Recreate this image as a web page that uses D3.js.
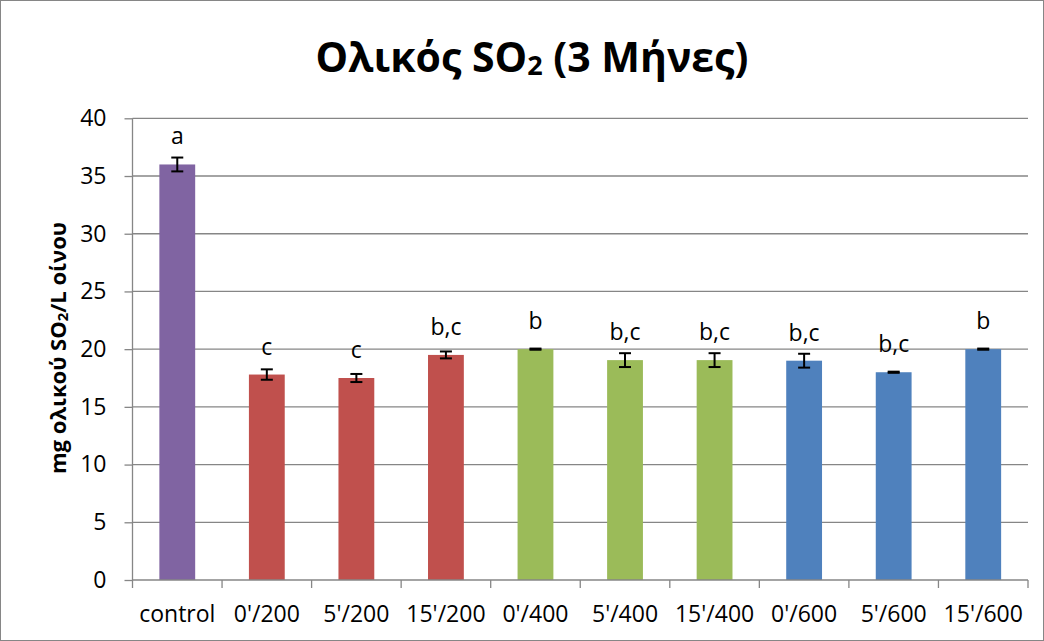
<!DOCTYPE html>
<html>
<head>
<meta charset="utf-8">
<script src="https://cdn.jsdelivr.net/npm/d3@7"></script>
<style>
  body { margin: 0; background: #fff; }
  svg { display: block; font-family: "Open Sans", sans-serif; }
</style>
</head>
<body>
<div id="chart"></div>
<script>
// data
const categories = ["control", "0'/200", "5'/200", "15'/200", "0'/400", "5'/400", "15'/400", "0'/600", "5'/600", "15'/600"];
const values = [36.0, 17.8, 17.5, 19.5, 20.0, 19.05, 19.05, 19.0, 18.0, 20.0];
const errors = [0.6, 0.45, 0.35, 0.3, 0.05, 0.6, 0.6, 0.6, 0.05, 0.05];
const letters = ["a", "c", "c", "b,c", "b", "b,c", "b,c", "b,c", "b,c", "b"];
const colors = ["#8064A2", "#C0504D", "#C0504D", "#C0504D", "#9BBB59", "#9BBB59", "#9BBB59", "#4F81BD", "#4F81BD", "#4F81BD"];
const yTicks = [0, 5, 10, 15, 20, 25, 30, 35, 40];

const svgWidth = 1044;
const svgHeight = 641;

const plot = { left: 132.5, right: 1028, top: 118.3, bottom: 580 };
const axisColor = "#868686";

const svg = d3.select("#chart")
  .append("svg")
  .attr("width", svgWidth)
  .attr("height", svgHeight);

// outer chart border
svg.append("rect")
  .attr("x", 0.5).attr("y", 0.5)
  .attr("width", svgWidth - 1).attr("height", svgHeight - 1)
  .attr("fill", "#fff")
  .attr("stroke", axisColor);

const x = d3.scaleBand()
  .domain(categories)
  .range([plot.left, plot.right])
  .paddingInner(0.6)
  .paddingOuter(0.3);

const y = d3.scaleLinear()
  .domain([0, 40])
  .range([plot.bottom, plot.top]);

// gridlines
svg.append("g")
  .selectAll("line")
  .data(yTicks.filter(d => d > 0))
  .enter()
  .append("line")
  .attr("x1", plot.left)
  .attr("x2", plot.right)
  .attr("y1", d => y(d))
  .attr("y2", d => y(d))
  .attr("stroke", axisColor)
  .attr("stroke-width", 1.3);

// bars
svg.append("g")
  .selectAll("rect")
  .data(categories)
  .enter()
  .append("rect")
  .attr("x", d => x(d))
  .attr("y", (d, i) => y(values[i]))
  .attr("width", x.bandwidth())
  .attr("height", (d, i) => y(0) - y(values[i]))
  .attr("fill", (d, i) => colors[i]);

// error bars
const errG = svg.append("g")
  .attr("stroke", "#000")
  .attr("stroke-width", 2);

categories.forEach((c, i) => {
  const cx = x(c) + x.bandwidth() / 2;
  const lo = y(values[i] - errors[i]);
  const hi = y(values[i] + errors[i]);
  errG.append("line").attr("x1", cx).attr("x2", cx).attr("y1", lo).attr("y2", hi);
  errG.append("line").attr("x1", cx - 6).attr("x2", cx + 6).attr("y1", lo).attr("y2", lo);
  errG.append("line").attr("x1", cx - 6).attr("x2", cx + 6).attr("y1", hi).attr("y2", hi);
});

// significance letters
svg.append("g")
  .selectAll("text")
  .data(categories)
  .enter()
  .append("text")
  .attr("x", d => x(d) + x.bandwidth() / 2)
  .attr("y", (d, i) => y(values[i]) - 20)
  .attr("text-anchor", "middle")
  .attr("font-size", "23px")
  .text((d, i) => letters[i]);

// y axis
const leftAxis = d3.axisLeft(y)
  .tickValues(yTicks)
  .tickSize(8)
  .tickPadding(18);

const yAxis = svg.append("g")
  .attr("transform", `translate(${plot.left}, 0)`)
  .call(leftAxis);
yAxis.selectAll("line, path").attr("stroke", axisColor).attr("stroke-width", 1.3);
yAxis.select(".domain").attr("d", `M0,${plot.top}V${plot.bottom}`);
yAxis.selectAll("text")
  .attr("font-family", "Open Sans, sans-serif")
  .attr("font-size", "23px")
  .attr("fill", "#000");

// x axis: labels centred, ticks on the category boundaries
const bottomAxis = d3.axisBottom(x)
  .tickSize(0)
  .tickPadding(26);

const xAxis = svg.append("g")
  .attr("transform", `translate(0, ${plot.bottom})`)
  .call(bottomAxis);
xAxis.select(".domain").attr("d", `M${plot.left},0H${plot.right}`)
  .attr("stroke", axisColor).attr("stroke-width", 1.3);
xAxis.selectAll("text")
  .attr("font-family", "Open Sans, sans-serif")
  .attr("font-size", "23px")
  .attr("fill", "#000");

const step = x.step();
const bounds = d3.range(categories.length + 1).map(i => plot.left + i * step);
xAxis.selectAll(".bound")
  .data(bounds)
  .enter()
  .append("line")
  .attr("class", "bound")
  .attr("x1", d => d).attr("x2", d => d)
  .attr("y1", 0).attr("y2", 8)
  .attr("stroke", axisColor)
  .attr("stroke-width", 1.3);

// title
const title = svg.append("text")
  .attr("x", 532)
  .attr("y", 72)
  .attr("text-anchor", "middle")
  .attr("font-size", "41px")
  .attr("font-weight", "bold");
title.append("tspan").text("Ολικός SO");
title.append("tspan").attr("font-size", "27px").attr("dy", 3).text("2");
title.append("tspan").attr("dy", -3).text(" (3 Μήνες)");

// y axis title
const yTitle = svg.append("text")
  .attr("transform", "translate(66, 348) rotate(-90)")
  .attr("text-anchor", "middle")
  .attr("font-size", "22px")
  .attr("font-weight", "bold");
yTitle.append("tspan").text("mg ολικού SO");
yTitle.append("tspan").attr("font-size", "15px").attr("dy", 2).text("2");
yTitle.append("tspan").attr("dy", -2).text("/L οίνου");
</script>
</body>
</html>
